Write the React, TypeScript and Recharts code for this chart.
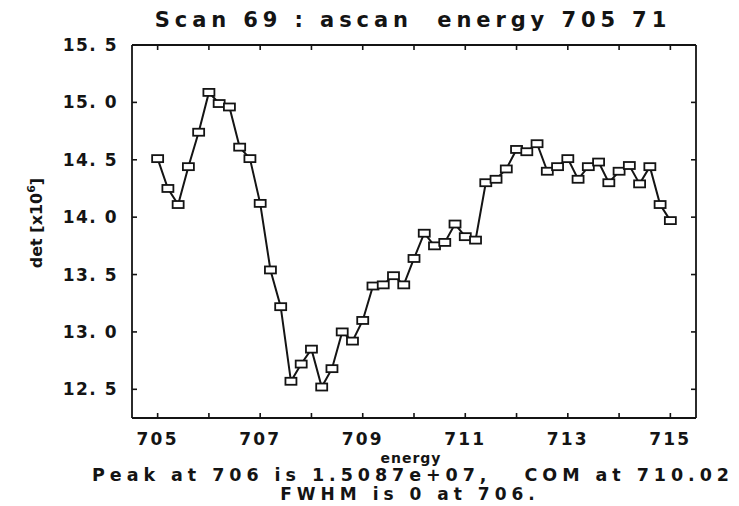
import React from 'react';
import { LineChart, Line, XAxis, YAxis } from 'recharts';

// Scan 69 readings: detector counts (x10^6) against energy
const energy = [
  705.0, 705.2, 705.4, 705.6, 705.8, 706.0, 706.2, 706.4, 706.6, 706.8,
  707.0, 707.2, 707.4, 707.6, 707.8, 708.0, 708.2, 708.4, 708.6, 708.8,
  709.0, 709.2, 709.4, 709.6, 709.8, 710.0, 710.2, 710.4, 710.6, 710.8,
  711.0, 711.2, 711.4, 711.6, 711.8, 712.0, 712.2, 712.4, 712.6, 712.8,
  713.0, 713.2, 713.4, 713.6, 713.8, 714.0, 714.2, 714.4, 714.6, 714.8,
  715.0,
];
const det = [
  14.51, 14.25, 14.11, 14.44, 14.74, 15.087, 14.99, 14.96, 14.61, 14.51,
  14.12, 13.54, 13.22, 12.57, 12.72, 12.85, 12.52, 12.68, 13.0, 12.92,
  13.1, 13.4, 13.41, 13.49, 13.41, 13.64, 13.86, 13.75, 13.78, 13.94,
  13.83, 13.8, 14.3, 14.33, 14.42, 14.59, 14.57, 14.64, 14.4, 14.44,
  14.51, 14.33, 14.44, 14.48, 14.3, 14.4, 14.45, 14.29, 14.44, 14.11,
  13.97,
];
const xTicks = [705, 706, 707, 708, 709, 710, 711, 712, 713, 714, 715];
const yTicks = [12.5, 13.0, 13.5, 14.0, 14.5, 15.0, 15.5];

const titleText = 'Scan 69 : ascan  energy 705 71';
const xLabel = 'energy';
const peakText = 'Peak at 706 is 1.5087e+07,   COM at 710.02';
const fwhmText = 'FWHM is 0 at 706.';

const rows = energy.map((e, i) => ({ energy: e, det: det[i] }));

const INK = '#141414';
const FONT = '"DejaVu Sans", sans-serif';

const fmtY = (v: number) => v.toFixed(1).replace('.', '. ');

const BottomTick = (props: any) => {
  const { x, y, payload } = props;
  const v = payload.value as number;
  return (
    <g>
      <line x1={x} x2={x} y1={y} y2={y - 5} stroke={INK} strokeWidth={1.6} />
      {v % 2 === 1 && (
        <text x={x} y={y + 27} textAnchor="middle" fill={INK} fontFamily={FONT}
          fontWeight="bold" fontSize={17} letterSpacing={2.2}>
          {v}
        </text>
      )}
    </g>
  );
};

const TopTick = (props: any) => {
  const { x, y } = props;
  return <line x1={x} x2={x} y1={y} y2={y + 5} stroke={INK} strokeWidth={1.6} />;
};

const LeftTick = (props: any) => {
  const { x, y, payload } = props;
  return (
    <g>
      <line x1={x} x2={x + 5} y1={y} y2={y} stroke={INK} strokeWidth={1.6} />
      <text x={x - 14} y={y + 6} textAnchor="end" fill={INK} fontFamily={FONT}
        fontWeight="bold" fontSize={17} letterSpacing={1.5} style={{ whiteSpace: 'pre' }}>
        {fmtY(payload.value)}
      </text>
    </g>
  );
};

const RightTick = (props: any) => {
  const { x, y } = props;
  return <line x1={x} x2={x - 5} y1={y} y2={y} stroke={INK} strokeWidth={1.6} />;
};

const BoxDot = (props: any) => {
  const { cx, cy } = props;
  if (cx == null || cy == null) return null;
  return (
    <rect x={cx - 5.5} y={cy - 3.5} width={11} height={7} fill="#fff"
      stroke={INK} strokeWidth={1.8} />
  );
};

const textStyle: React.CSSProperties = { whiteSpace: 'pre' };

export default function App() {
  return (
    <div style={{ position: 'absolute', left: 0, top: 0, width: 739, height: 506, background: '#fff' }}>
      <LineChart width={739} height={506} data={rows}
        margin={{ top: 35, right: 33, bottom: 58, left: 72 }}>
        <XAxis dataKey="energy" type="number" domain={[704.5, 715.5]} ticks={xTicks}
          allowDataOverflow interval={0} height={30} tickSize={0} tickMargin={0}
          axisLine={{ stroke: INK, strokeWidth: 1.8 }} tickLine={false} tick={<BottomTick />} />
        <XAxis xAxisId="top" orientation="top" dataKey="energy" type="number"
          domain={[704.5, 715.5]} ticks={xTicks} allowDataOverflow interval={0} height={10}
          tickSize={0} tickMargin={0} axisLine={{ stroke: INK, strokeWidth: 1.8 }}
          tickLine={false} tick={<TopTick />} />
        <YAxis type="number" domain={[12.25, 15.5]} ticks={yTicks} allowDataOverflow
          interval={0} width={60} tickSize={0} tickMargin={0}
          axisLine={{ stroke: INK, strokeWidth: 1.8 }} tickLine={false} tick={<LeftTick />} />
        <YAxis yAxisId="right" orientation="right" type="number" domain={[12.25, 15.5]}
          ticks={yTicks} allowDataOverflow interval={0} width={10} tickSize={0} tickMargin={0}
          axisLine={{ stroke: INK, strokeWidth: 1.8 }} tickLine={false} tick={<RightTick />} />
        <Line dataKey="det" xAxisId="top" yAxisId="right" stroke="none" dot={false}
          activeDot={false} isAnimationActive={false} legendType="none" />
        <Line dataKey="det" type="linear" stroke={INK} strokeWidth={2}
          dot={<BoxDot />} activeDot={false} isAnimationActive={false} />
      </LineChart>
      <svg width={739} height={506} style={{ position: 'absolute', left: 0, top: 0, pointerEvents: 'none' }}>
        <g fill={INK} fontFamily={FONT} fontWeight="bold">
          <text x={413} y={27} textAnchor="middle" fontSize={21} letterSpacing={4.9} style={textStyle}>
            {titleText}
          </text>
          <text x={411} y={463} textAnchor="middle" fontSize={14} letterSpacing={1} style={textStyle}>
            {xLabel}
          </text>
          <text x={413} y={481} textAnchor="middle" fontSize={17.5} letterSpacing={4.95} style={textStyle}>
            {peakText}
          </text>
          <text x={410} y={500} textAnchor="middle" fontSize={17} letterSpacing={5} style={textStyle}>
            {fwhmText}
          </text>
          <text transform="translate(42 223) rotate(-90)" textAnchor="middle" fontSize={16}>
            det [x10<tspan dy={-7} fontSize={11}>6</tspan><tspan dy={7}>]</tspan>
          </text>
        </g>
      </svg>
    </div>
  );
}
